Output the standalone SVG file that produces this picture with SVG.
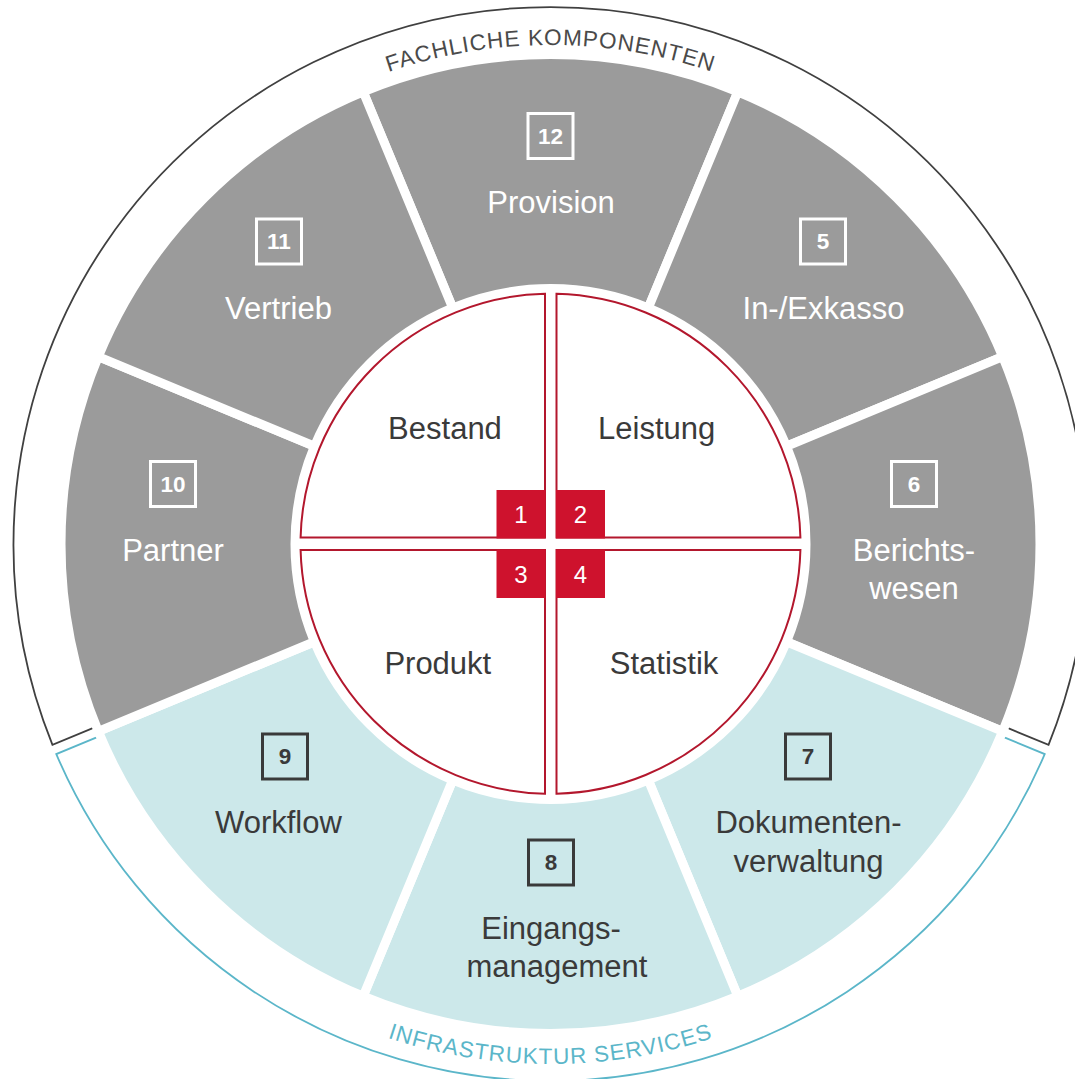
<svg xmlns="http://www.w3.org/2000/svg" width="1075" height="1079" viewBox="0 0 1075 1079">
<style>
  text { font-family: "Liberation Sans", Arial, sans-serif; }
  .seg-g { fill: #9b9b9b; stroke: #ffffff; stroke-width: 9; stroke-linejoin: miter; }
  .seg-b { fill: #cce8ea; stroke: #ffffff; stroke-width: 9; stroke-linejoin: miter; }
  .quad { fill: #ffffff; stroke: #b3172d; stroke-width: 2; }
  .rbox { fill: #ce122d; }
  .nbox-w { fill: none; stroke: #ffffff; stroke-width: 3; }
  .nbox-d { fill: none; stroke: #3a3a3a; stroke-width: 3; }
  .num-w { fill: #ffffff; font-size: 22.5px; font-weight: bold; text-anchor: middle; }
  .num-d { fill: #3a3a3a; font-size: 22.5px; font-weight: bold; text-anchor: middle; }
  .lbl-w { fill: #ffffff; font-size: 31px; text-anchor: middle; }
  .lbl-d { fill: #3a3a3a; font-size: 31px; text-anchor: middle; }
  .rnum { fill: #ffffff; font-size: 24px; text-anchor: middle; }
  .ring-d { fill: none; stroke: #404040; stroke-width: 1.8; }
  .ring-b { fill: none; stroke: #5bb6c9; stroke-width: 1.8; }
  .arc-t { font-size: 22.5px; letter-spacing: 1px; }
</style>
<defs>
  <path id="topArc" d="M51.5,544 A499,499 0 0 1 1049.5,544"/>
  <path id="botArc" d="M30.5,544 A520,520 0 0 0 1070.5,544"/>
</defs>
<rect x="0" y="0" width="1075" height="1079" fill="#ffffff"/>

<g id="ring-fachlich">
  <path class="ring-d" d="M100.05,725.17 L52.47,744.9 A537,537 0 1 1 1048.53,744.9 L1000.95,725.17"/>
  <text class="arc-t" fill="#4a4a4a"><textPath href="#topArc" startOffset="50%" text-anchor="middle">FACHLICHE KOMPONENTEN</textPath></text>
</g>
<g id="ring-infrastruktur">
  <path class="ring-b" d="M103.9,734.4 L56.3,754.1 A537,537 0 0 0 1044.7,754.1 L997.1,734.4"/>
  <text class="arc-t" fill="#5bb6c9"><textPath href="#botArc" startOffset="50%" text-anchor="middle">INFRASTRUKTUR SERVICES</textPath></text>
</g>

<g id="seg-provision">
  <path class="seg-g" d="M363.18,91.76 A489.5,489.5 0 0 1 737.82,91.76 L648.27,307.95 A255.5,255.5 0 0 0 452.73,307.95 Z"/>
  <rect class="nbox-w" x="528" y="113.5" width="45" height="45"/>
  <text class="num-w" x="550.5" y="144">12</text>
  <text class="lbl-w" x="551" y="212.8">Provision</text>
</g>
<g id="seg-inexkasso">
  <path class="seg-g" d="M737.82,91.76 A489.5,489.5 0 0 1 1002.74,356.68 L786.55,446.23 A255.5,255.5 0 0 0 648.27,307.95 Z"/>
  <rect class="nbox-w" x="800.5" y="219" width="45" height="45"/>
  <text class="num-w" x="823" y="249.4">5</text>
  <text class="lbl-w" x="823.5" y="318.5">In-/Exkasso</text>
</g>
<g id="seg-berichtswesen">
  <path class="seg-g" d="M1002.74,356.68 A489.5,489.5 0 0 1 1002.74,731.32 L786.55,641.77 A255.5,255.5 0 0 0 786.55,446.23 Z"/>
  <rect class="nbox-w" x="891.5" y="461.5" width="45" height="45"/>
  <text class="num-w" x="914" y="492">6</text>
  <text class="lbl-w" x="914" y="560.5">Berichts-</text>
  <text class="lbl-w" x="914" y="598.5">wesen</text>
</g>
<g id="seg-dokumentenverwaltung">
  <path class="seg-b" d="M1002.74,731.32 A489.5,489.5 0 0 1 737.82,996.24 L648.27,780.05 A255.5,255.5 0 0 0 786.55,641.77 Z"/>
  <rect class="nbox-d" x="785.5" y="734" width="45" height="45"/>
  <text class="num-d" x="808" y="764.4">7</text>
  <text class="lbl-d" x="808.5" y="832.7">Dokumenten-</text>
  <text class="lbl-d" x="808.5" y="872">verwaltung</text>
</g>
<g id="seg-eingangsmanagement">
  <path class="seg-b" d="M737.82,996.24 A489.5,489.5 0 0 1 363.18,996.24 L452.73,780.05 A255.5,255.5 0 0 0 648.27,780.05 Z"/>
  <rect class="nbox-d" x="528.5" y="840" width="45" height="45"/>
  <text class="num-d" x="551" y="870.3">8</text>
  <text class="lbl-d" x="551" y="939.4">Eingangs-</text>
  <text class="lbl-d" x="557" y="977.3">management</text>
</g>
<g id="seg-workflow">
  <path class="seg-b" d="M363.18,996.24 A489.5,489.5 0 0 1 98.26,731.32 L314.45,641.77 A255.5,255.5 0 0 0 452.73,780.05 Z"/>
  <rect class="nbox-d" x="262.5" y="734" width="45" height="45"/>
  <text class="num-d" x="285" y="764.4">9</text>
  <text class="lbl-d" x="278.4" y="832.7">Workflow</text>
</g>
<g id="seg-partner">
  <path class="seg-g" d="M98.26,731.32 A489.5,489.5 0 0 1 98.26,356.68 L314.45,446.23 A255.5,255.5 0 0 0 314.45,641.77 Z"/>
  <rect class="nbox-w" x="150.5" y="461.5" width="45" height="45"/>
  <text class="num-w" x="173" y="492">10</text>
  <text class="lbl-w" x="173" y="560.7">Partner</text>
</g>
<g id="seg-vertrieb">
  <path class="seg-g" d="M98.26,356.68 A489.5,489.5 0 0 1 363.18,91.76 L452.73,307.95 A255.5,255.5 0 0 0 314.45,446.23 Z"/>
  <rect class="nbox-w" x="256.5" y="219" width="45" height="45"/>
  <text class="num-w" x="279" y="249.4">11</text>
  <text class="lbl-w" x="278.5" y="318.5">Vertrieb</text>
</g>

<g id="quad-bestand">
  <path class="quad" d="M545,537.5 L300.6,537.5 A250,250 0 0 1 545,293.8 Z"/>
  <rect class="rbox" x="496.5" y="490" width="49" height="48.5"/>
  <text class="rnum" x="521" y="522.5">1</text>
  <text class="lbl-d" x="445" y="439">Bestand</text>
</g>
<g id="quad-leistung">
  <path class="quad" d="M556.5,537.5 L556.5,293.8 A250,250 0 0 1 800.4,537.5 Z"/>
  <rect class="rbox" x="556" y="490" width="49" height="48.5"/>
  <text class="rnum" x="580.5" y="522.5">2</text>
  <text class="lbl-d" x="656.7" y="439">Leistung</text>
</g>
<g id="quad-produkt">
  <path class="quad" d="M545,550 L300.6,550 A250,250 0 0 0 545,793.7 Z"/>
  <rect class="rbox" x="496.5" y="549.5" width="49" height="48.5"/>
  <text class="rnum" x="521" y="582.5">3</text>
  <text class="lbl-d" x="437.8" y="674.3">Produkt</text>
</g>
<g id="quad-statistik">
  <path class="quad" d="M556.5,550 L800.4,550 A250,250 0 0 1 556.5,793.7 Z"/>
  <rect class="rbox" x="556" y="549.5" width="49" height="48.5"/>
  <text class="rnum" x="580.5" y="582.5">4</text>
  <text class="lbl-d" x="664" y="674.3">Statistik</text>
</g>
</svg>
